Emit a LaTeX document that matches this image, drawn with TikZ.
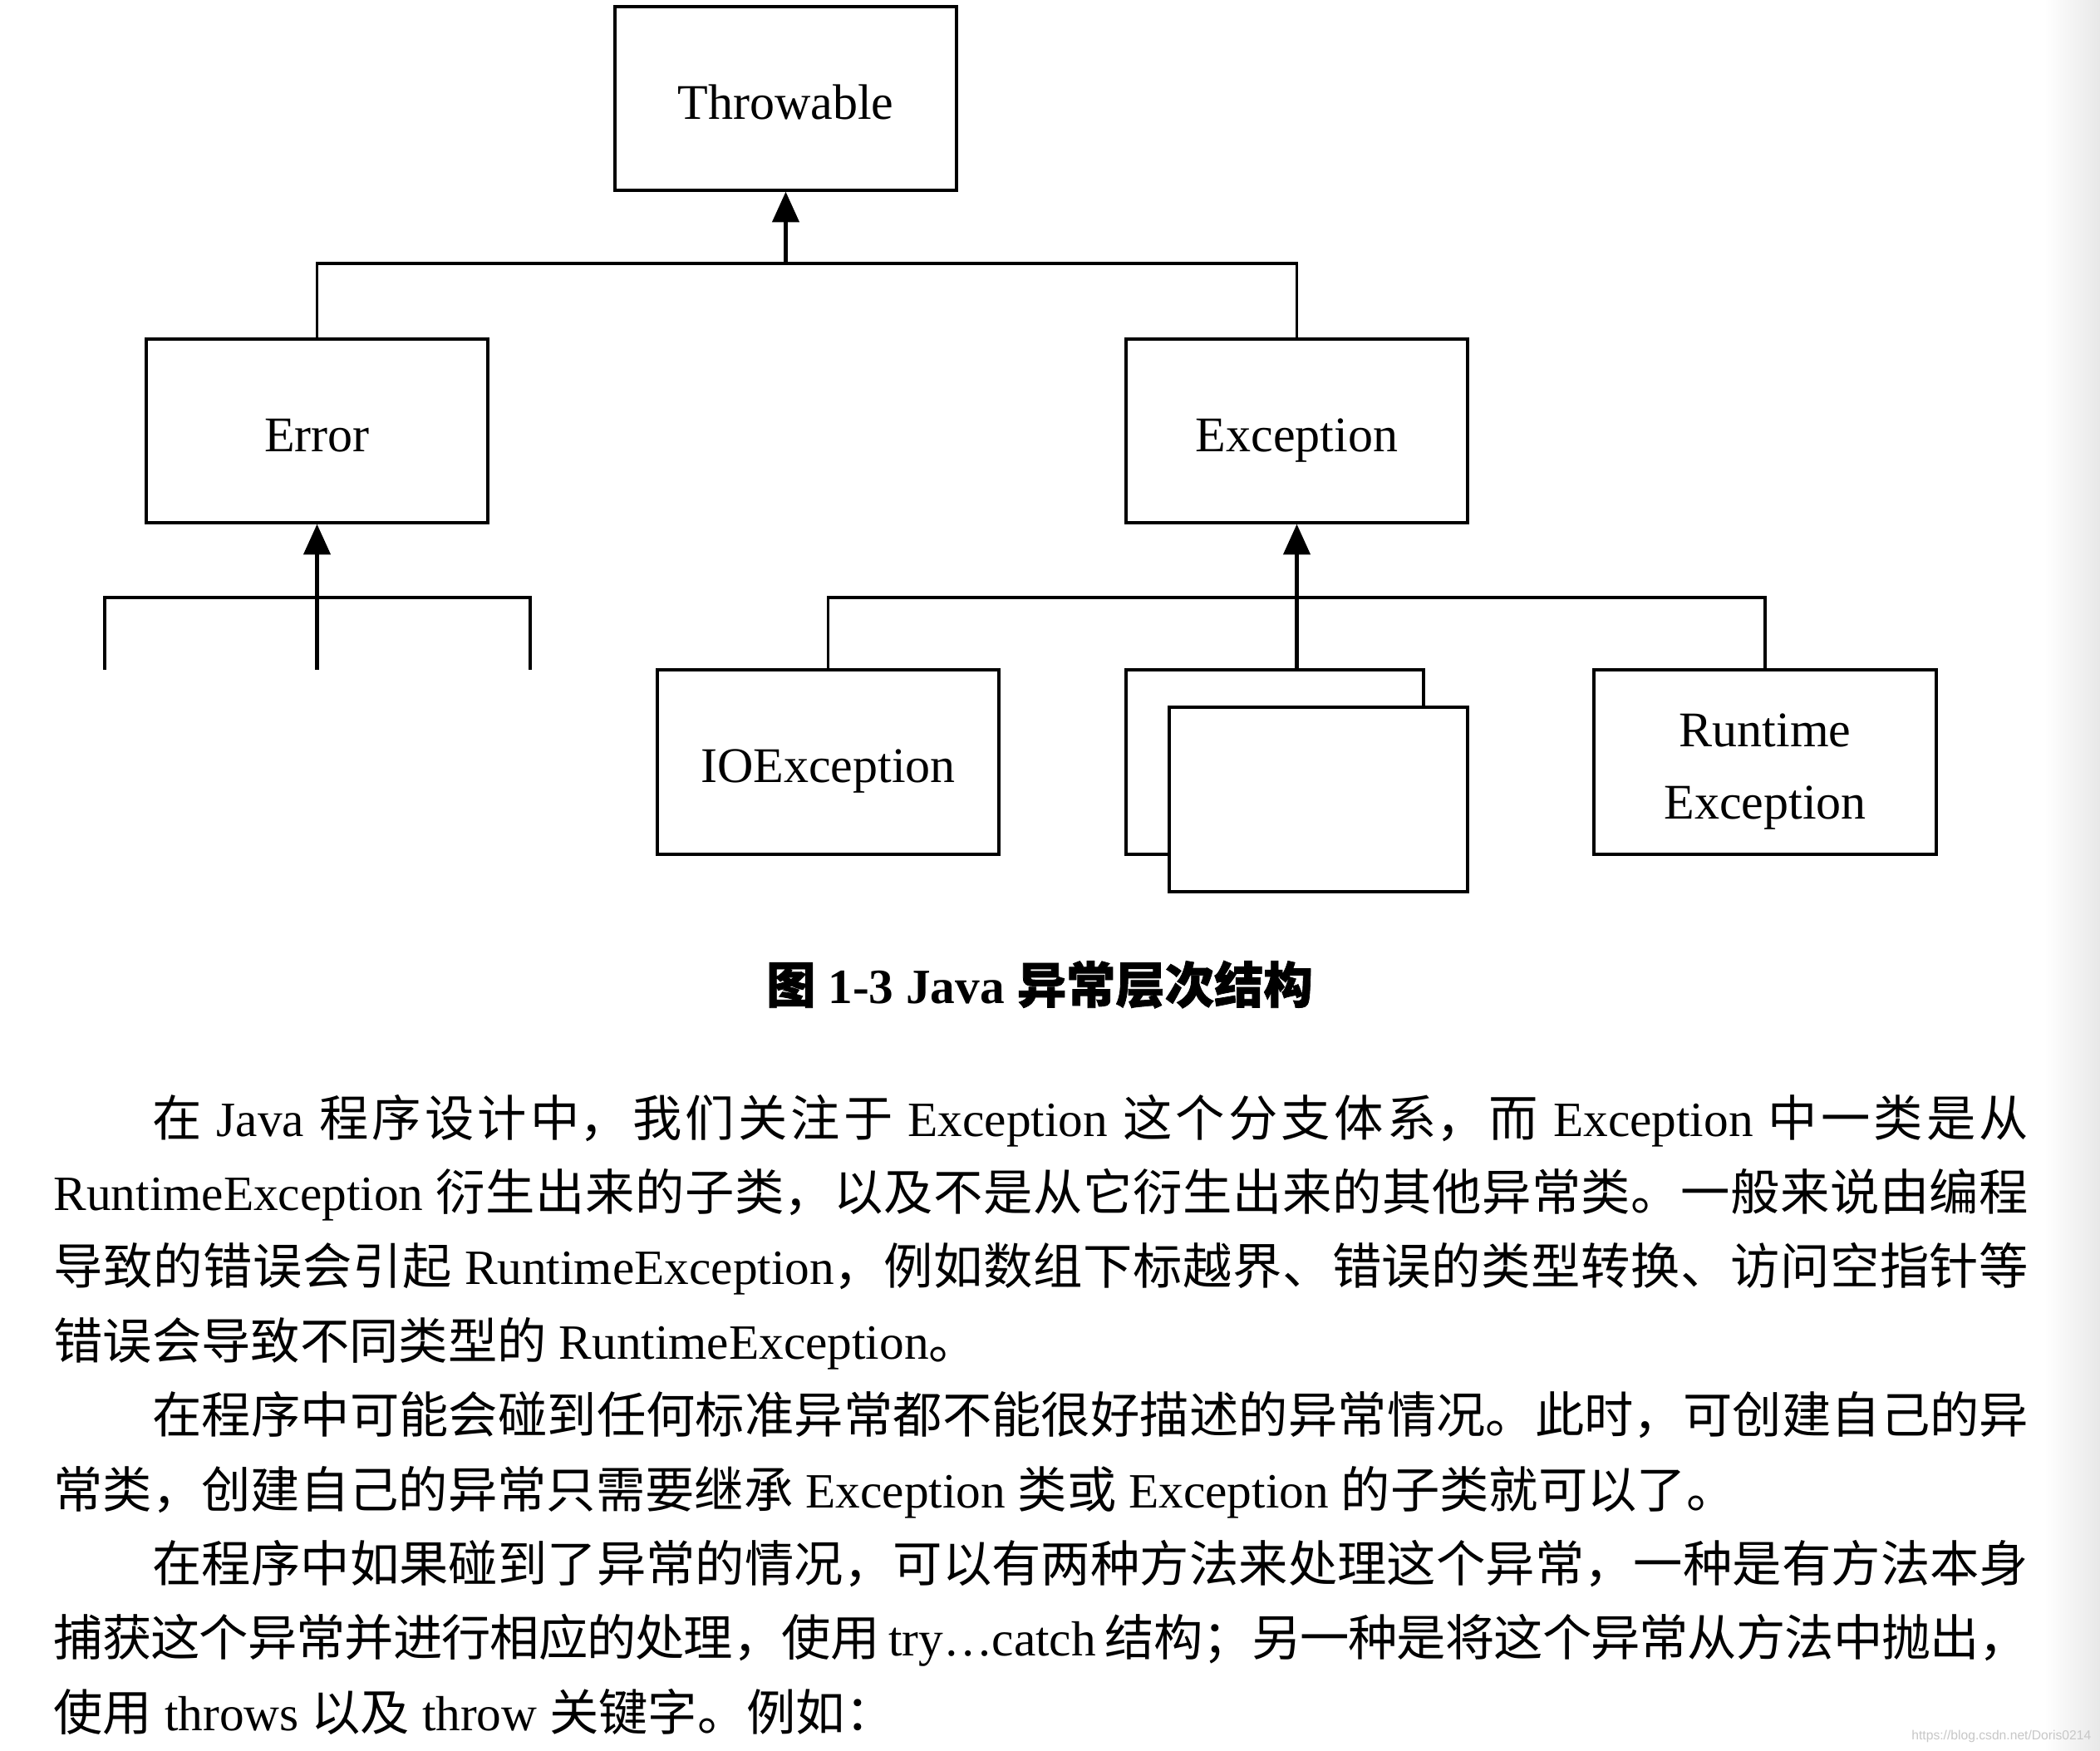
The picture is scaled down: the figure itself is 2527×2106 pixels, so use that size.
\documentclass[tikz,border=0pt]{standalone}
\usepackage{fontspec}
\setmainfont{Liberation Serif}
\newfontfamily\cjk{Noto Sans CJK SC}
\newfontfamily\cjkb[FakeBold=1.3]{Noto Sans CJK SC}
\newfontfamily\wmfont{Liberation Sans}
\usetikzlibrary{arrows.meta}
\XeTeXlinebreaklocale "zh"
\XeTeXlinebreakskip=0pt plus 3pt minus 0.4pt
\newcommand\zh[1]{{\cjk #1}}
\newcommand\myjustline[1]{\parbox[t]{713pt}{\parfillskip=0pt #1}}
\newcommand\mylastline[1]{\parbox[t]{713pt}{#1}}
\tikzset{
  cls/.style={draw, line width=1pt, inner sep=0pt, fill=white, align=center,
    text height=14.8pt, text depth=0pt,
    font=\fontsize{18pt}{26pt}\selectfont},
  twoline/.style={inner sep=0pt, align=center, yshift=-3.4pt,
    font=\fontsize{18pt}{26pt}\selectfont},
  conn/.style={line width=1.1pt},
  stem/.style={line width=1.3pt, -{Triangle[width=9.6pt,length=11pt]}},
  bodyline/.style={anchor=base west, inner sep=0pt, font=\fontsize{17.8pt}{26pt}\selectfont}
}
\begin{document}
\begin{tikzpicture}[x=0.3pt,y=-0.3pt]
\useasboundingbox (0,0) rectangle (2527,2106);
\fill[white] (0,0) rectangle (2527,2106);
\shade[left color=white, right color=black!9] (2460,0) rectangle (2527,2106);

% boxes
\node[cls, minimum width=123.3pt, minimum height=66.3pt] (thr) at (945.5,118.5) {Throwable};
\node[cls, minimum width=123.3pt, minimum height=66.3pt] (err) at (381.5,518.5) {Error};
\node[cls, minimum width=123.3pt, minimum height=66.3pt] (exc) at (1560.5,518.5) {Exception};
\node[cls, minimum width=123.3pt, minimum height=66.6pt] (io) at (996.5,917) {IOException};
\node[cls, minimum width=107.4pt, minimum height=66.6pt] (bk) at (1534,917) {};
\node[cls, minimum width=107.7pt, minimum height=66.6pt] (fr) at (1586.5,962) {};
\node[cls, minimum width=123.6pt, minimum height=66.6pt] (rt) at (2124,917) {};
\node[twoline] (rtl) at (rt.center) {Runtime\\Exception};

% connectors
\coordinate (jt) at (945.5,317);
\draw[conn] (err.north) |- (jt) -| (exc.north);
\draw[stem] (jt) -- (thr.south);

\coordinate (ebar) at (381.5,719);
\coordinate (el) at (126,806);
\coordinate (er) at (638,806);
\coordinate (em) at (381.5,806);
\draw[conn] (el) |- (ebar) -| (er);
\draw[stem] (em) -- (err.south);

\coordinate (xbar) at (1560.5,719);
\draw[conn] (io.north) |- (xbar) -| (rt.north);
\draw[stem] (exc.south |- bk.north) -- (exc.south);

% caption
\node[anchor=base, inner sep=0pt, font=\fontsize{17.8pt}{20pt}\selectfont\bfseries] (cap) at (1251,1207)
  {{\cjkb 图} 1-3 Java {\cjkb 异常层次结构}};

% body text
\node[bodyline] (l1) at (64,1367) {\myjustline{\hspace*{35.6pt}\zh{在} Java \zh{程序设计中，我们关注于} Exception \zh{这个分支体系，而} Exception \zh{中一类是从}}};
\node[bodyline] (l2) at (64,1456.4) {\myjustline{RuntimeException \zh{衍生出来的子类，以及不是从它衍生出来的其他异常类。一般来说由编程}}};
\node[bodyline] (l3) at (64,1545.8) {\myjustline{\zh{导致的错误会引起} RuntimeException\zh{，例如数组下标越界、错误的类型转换、访问空指针等}}};
\node[bodyline] (l4) at (64,1635.2) {\mylastline{\zh{错误会导致不同类型的} RuntimeException\zh{。}}};
\node[bodyline] (l5) at (64,1724.6) {\myjustline{\hspace*{35.6pt}\zh{在程序中可能会碰到任何标准异常都不能很好描述的异常情况。此时，可创建自己的异}}};
\node[bodyline] (l6) at (64,1814) {\mylastline{\zh{常类，创建自己的异常只需要继承} Exception \zh{类或} Exception \zh{的子类就可以了。}}};
\node[bodyline] (l7) at (64,1903.4) {\myjustline{\hspace*{35.6pt}\zh{在程序中如果碰到了异常的情况，可以有两种方法来处理这个异常，一种是有方法本身}}};
\node[bodyline] (l8) at (64,1992.8) {\myjustline{\zh{捕获这个异常并进行相应的处理，使用} try…catch \zh{结构；另一种是将这个异常从方法中抛出，}}};
\node[bodyline] (l9) at (64,2082.2) {\mylastline{\zh{使用} throws \zh{以及} throw \zh{关键字。例如：}}};

% watermark
\node[anchor=base east, inner sep=0pt, text=black!22, font=\wmfont\fontsize{4.7pt}{5pt}\selectfont] (wm) at (2517,2093) {https://blog.csdn.net/Doris0214};
\end{tikzpicture}
\end{document}
